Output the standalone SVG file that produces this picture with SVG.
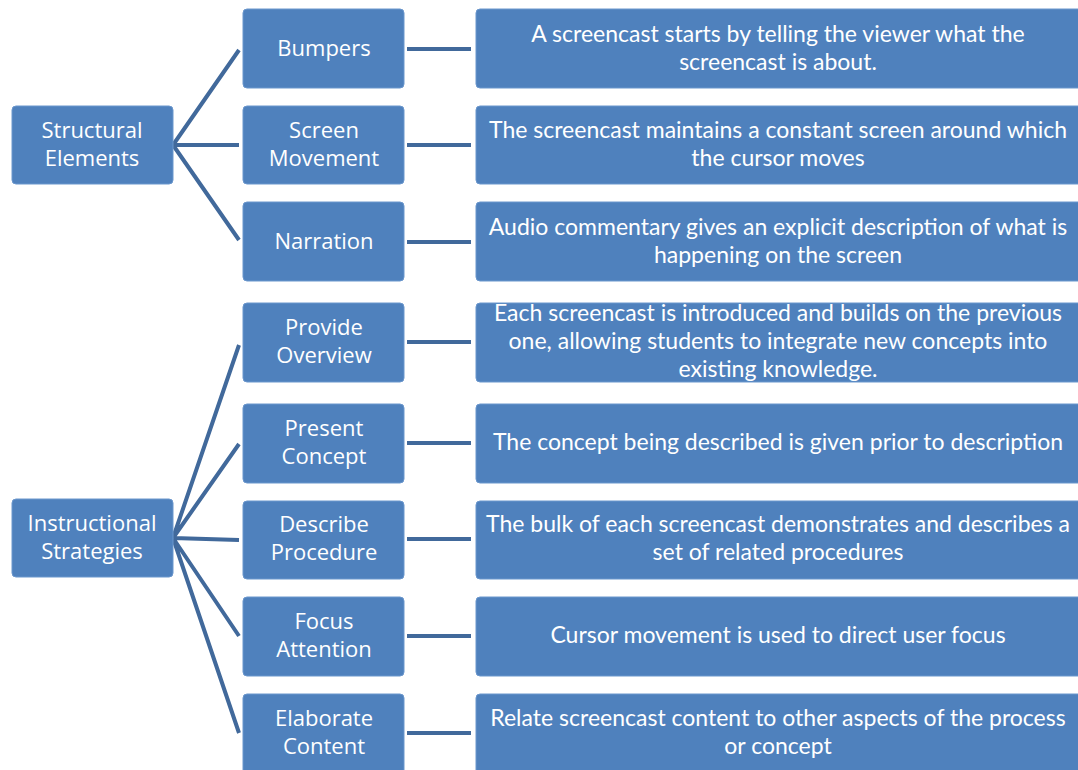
<svg xmlns="http://www.w3.org/2000/svg" width="1078" height="770" viewBox="0 0 1078 770">
<style>
.box{fill:#4f81bd;stroke:#6b97cd;stroke-width:1}
.lbl{font-family:"Open Sans","Liberation Sans",sans-serif;font-size:22px;fill:#fff;text-anchor:middle}
.desc{font-family:Lato,"Liberation Sans",sans-serif;font-size:23px;fill:#fff;text-anchor:middle}
.con{stroke:#41699b;stroke-width:4;fill:none;stroke-linecap:butt}
</style>
<rect width="1078" height="770" fill="#fff"/>
<g id="connectors">
<path class="con" d="M173 145 L239 50 M173 145 L239 145 M173 145 L239 240"/>
<path class="con" d="M173 538 L239 345 M173 538 L239 444 M173 538 L239 540 M173 538 L239 636 M173 538 L239 733"/>
<path class="con" d="M407 49 H471 M407 145 H471 M407 242 H471 M407 342 H471 M407 443 H471 M407 539 H471 M407 636 H471 M407 733 H471"/>
</g>
<g id="structural"><rect class="box" x="12" y="106" width="161" height="78" rx="4"/><text class="lbl" x="92" y="138">Structural</text><text class="lbl" x="92" y="166">Elements</text></g>
<g id="instructional"><rect class="box" x="12" y="499" width="161" height="78" rx="4"/><text class="lbl" x="92" y="531">Instructional</text><text class="lbl" x="92" y="559">Strategies</text></g>
<g id="bumpers"><rect class="box" x="243" y="9" width="161" height="79" rx="4"/><text class="lbl" x="324" y="56">Bumpers</text></g>
<g id="screen-movement"><rect class="box" x="243" y="106" width="161" height="78" rx="4"/><text class="lbl" x="324" y="138">Screen</text><text class="lbl" x="324" y="166">Movement</text></g>
<g id="narration"><rect class="box" x="243" y="202" width="161" height="79" rx="4"/><text class="lbl" x="324" y="249">Narration</text></g>
<g id="provide-overview"><rect class="box" x="243" y="303" width="161" height="79" rx="4"/><text class="lbl" x="324" y="335">Provide</text><text class="lbl" x="324" y="363">Overview</text></g>
<g id="present-concept"><rect class="box" x="243" y="404" width="161" height="79" rx="4"/><text class="lbl" x="324" y="436">Present</text><text class="lbl" x="324" y="464">Concept</text></g>
<g id="describe-procedure"><rect class="box" x="243" y="501" width="161" height="78" rx="4"/><text class="lbl" x="324" y="532">Describe</text><text class="lbl" x="324" y="560">Procedure</text></g>
<g id="focus-attention"><rect class="box" x="243" y="597" width="161" height="79" rx="4"/><text class="lbl" x="324" y="629">Focus</text><text class="lbl" x="324" y="657">Attention</text></g>
<g id="elaborate-content"><rect class="box" x="243" y="694" width="161" height="80" rx="4"/><text class="lbl" x="324" y="726">Elaborate</text><text class="lbl" x="324" y="754">Content</text></g>
<g id="d-bumpers"><rect class="box" x="476" y="9" width="606" height="79" rx="4"/><text class="desc" x="778" y="42">A screencast starts by telling the viewer what the</text><text class="desc" x="778" y="70">screencast is about.</text></g>
<g id="d-screen-movement"><rect class="box" x="476" y="106" width="606" height="78" rx="4"/><text class="desc" x="778" y="138">The screencast maintains a constant screen around which</text><text class="desc" x="778" y="166">the cursor moves</text></g>
<g id="d-narration"><rect class="box" x="476" y="202" width="606" height="79" rx="4"/><text class="desc" x="778" y="235">Audio commentary gives an explicit description of what is</text><text class="desc" x="778" y="263">happening on the screen</text></g>
<g id="d-provide-overview"><rect class="box" x="476" y="303" width="606" height="79" rx="4"/><text class="desc" x="778" y="321">Each screencast is introduced and builds on the previous</text><text class="desc" x="778" y="349">one, allowing students to integrate new concepts into</text><text class="desc" x="778" y="377">existing knowledge.</text></g>
<g id="d-present-concept"><rect class="box" x="476" y="404" width="606" height="79" rx="4"/><text class="desc" x="778" y="450">The concept being described is given prior to description</text></g>
<g id="d-describe-procedure"><rect class="box" x="476" y="501" width="606" height="78" rx="4"/><text class="desc" x="778" y="532">The bulk of each screencast demonstrates and describes a</text><text class="desc" x="778" y="560">set of related procedures</text></g>
<g id="d-focus-attention"><rect class="box" x="476" y="597" width="606" height="79" rx="4"/><text class="desc" x="778" y="643">Cursor movement is used to direct user focus</text></g>
<g id="d-elaborate-content"><rect class="box" x="476" y="694" width="606" height="80" rx="4"/><text class="desc" x="778" y="726">Relate screencast content to other aspects of the process</text><text class="desc" x="778" y="754">or concept</text></g>
</svg>
